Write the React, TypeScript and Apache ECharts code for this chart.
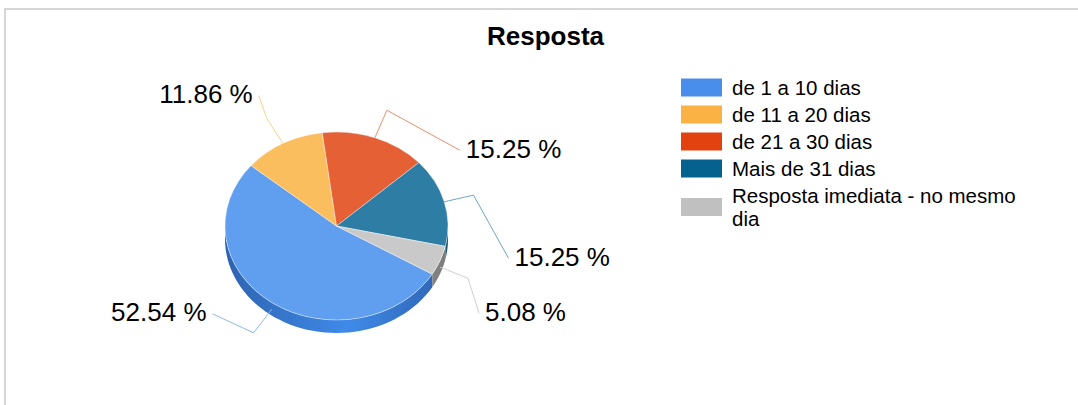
import React, { useEffect, useRef } from 'react';
import * as echarts from 'echarts';

// ---- data ----
const TITLE = 'Resposta';
const CATEGORIES = [
  'de 1 a 10 dias',
  'de 11 a 20 dias',
  'de 21 a 30 dias',
  'Mais de 31 dias',
  'Resposta imediata - no mesmo dia',
];
const PERCENTS = [52.54, 11.86, 15.25, 15.25, 5.08];

// ---- styles ----
const LEGEND_COLORS = ['#4a8eec', '#fbb244', '#e1420f', '#05628f', '#c0c0c0'];
const TOP_COLORS = ['#609ef0', '#fbbe5f', '#e56034', '#2e7da5', '#c9c9c9'];
const SIDE_EDGE = ['#2d63b0', '#d08a2a', '#b03a12', '#1c5676', '#7c7c7c'];
const SIDE_MID = ['#3f8ae9', '#f0a840', '#d24e20', '#2a6e92', '#a4a4a4'];
const LINE_COLORS = ['#8cb8f2', '#fcd08a', '#ef8f6e', '#6fa6c6', '#cfcfcf'];
// label anchor offsets relative to the leader elbow (layout only)
const LABEL_OFFSETS = [[-41, -19], [-8, -23], [73, 40], [35, 63], [11, 35]];

const FONT = '"Liberation Sans", Arial, sans-serif';
const CX = 336.5;
const CY = 226;
const RX = 111.5;
const RY = 94;
const DEPTH = 13;
const START_DEG = -30.8; // echarts convention (counter-clockwise from 3 o'clock)

export default function App() {
  const ref = useRef<HTMLDivElement>(null);

  useEffect(() => {
    if (!ref.current) return;
    const chart = echarts.init(ref.current, null, { renderer: 'svg' });

    const total = PERCENTS.reduce((s, v) => s + v, 0);
    const angles: number[] = [];
    let acc = (-START_DEG * Math.PI) / 180; // screen radians, clockwise
    angles.push(acc);
    PERCENTS.forEach((v) => {
      acc += (v / total) * Math.PI * 2;
      angles.push(acc);
    });

    const renderItem = (params: any, api: any) => {
      const i = params.dataIndex;
      const v = api.value(0);
      const a0 = angles[i];
      const a1 = angles[i + 1];
      const children: any[] = [];

      // side wall (front half only)
      for (const k of [0, 1]) {
        const lo = Math.max(a0, k * Math.PI * 2);
        const hi = Math.min(a1, k * Math.PI * 2 + Math.PI);
        if (hi > lo) {
          const n = 48;
          const top: number[][] = [];
          const bot: number[][] = [];
          for (let s = 0; s <= n; s++) {
            const t = lo + ((hi - lo) * s) / n;
            const x = CX + RX * Math.cos(t);
            const y = CY + RY * Math.sin(t);
            top.push([x, y]);
            bot.push([x, y + DEPTH]);
          }
          children.push({
            type: 'polygon',
            shape: { points: top.concat(bot.reverse()) },
            style: {
              fill: new echarts.graphic.LinearGradient(
                CX - RX, 0, CX + RX, 0,
                [
                  { offset: 0, color: SIDE_EDGE[i] },
                  { offset: 0.55, color: SIDE_MID[i] },
                  { offset: 1, color: SIDE_EDGE[i] },
                ],
                true
              ),
            },
          });
        }
      }

      // top face
      children.push({
        type: 'group',
        x: CX,
        y: CY,
        scaleY: RY / RX,
        children: [
          {
            type: 'sector',
            shape: { cx: 0, cy: 0, r: RX, r0: 0, startAngle: a0, endAngle: a1, clockwise: true },
            style: { fill: TOP_COLORS[i], stroke: 'rgba(255,255,255,0.55)', lineWidth: 0.8 },
          },
        ],
      });

      // leader line + label
      const m = (a0 + a1) / 2;
      let rx = CX + RX * Math.cos(m);
      let ry = CY + RY * Math.sin(m);
      if (Math.sin(m) > 0) ry += DEPTH / 2;
      const dx = rx - CX;
      const dy = ry - CY;
      const len = Math.sqrt(dx * dx + dy * dy);
      const ex = rx + (30 * dx) / len;
      const ey = ry + (30 * dy) / len;
      const off = LABEL_OFFSETS[i];
      const endX = ex + off[0];
      const endY = ey + off[1];
      children.push({
        type: 'polyline',
        shape: { points: [[rx, ry], [ex, ey], [endX, endY]] },
        style: { stroke: LINE_COLORS[i], lineWidth: 1, fill: null },
      });
      const right = off[0] < 0;
      children.push({
        type: 'text',
        x: endX + (right ? -6 : 6),
        y: endY - 1.5,
        style: {
          text: v.toFixed(2) + ' %',
          fontSize: 26,
          fontFamily: FONT,
          fill: '#000',
          align: right ? 'right' : 'left',
          verticalAlign: 'middle',
        },
      });

      return { type: 'group', children };
    };

    chart.setOption({
      animation: false,
      backgroundColor: '#ffffff',
      title: {
        text: TITLE,
        left: 487,
        top: 23,
        padding: 0,
        textStyle: { fontSize: 26, fontWeight: 'bold', fontFamily: FONT, color: '#000' },
      },
      legend: {
        orient: 'vertical',
        left: 681,
        top: 76,
        padding: 0,
        itemWidth: 41,
        itemHeight: 18,
        itemGap: 4,
        icon: 'rect',
        selectedMode: false,
        data: CATEGORIES,
        formatter: (name: string) => name.replace(' no mesmo dia', ' no mesmo\ndia'),
        textStyle: {
          fontSize: 20.5,
          fontFamily: FONT,
          color: '#000',
          lineHeight: 23,
          padding: [0, 0, 0, 5],
        },
      },
      graphic: [
        { type: 'line', shape: { x1: 5, y1: 8, x2: 5, y2: 405 }, style: { stroke: '#d6d6d6', lineWidth: 2 } },
        { type: 'line', shape: { x1: 4, y1: 9, x2: 1078, y2: 9 }, style: { stroke: '#d6d6d6', lineWidth: 2 } },
      ],
      series: [
        {
          // invisible pie only feeding the legend
          type: 'pie',
          radius: 0,
          center: [CX, CY],
          silent: true,
          label: { show: false },
          labelLine: { show: false },
          data: CATEGORIES.map((name, i) => ({
            name,
            value: PERCENTS[i],
            itemStyle: { color: LEGEND_COLORS[i] },
          })),
        },
        {
          type: 'custom',
          coordinateSystem: 'none',
          silent: true,
          renderItem,
          data: PERCENTS.map((v, i) => ({ name: CATEGORIES[i], value: [v] })),
        },
      ],
    });

    return () => chart.dispose();
  }, []);

  return (
    <div
      ref={ref}
      style={{ position: 'fixed', left: 0, top: 0, width: 1078, height: 405, background: '#fff' }}
    />
  );
}
